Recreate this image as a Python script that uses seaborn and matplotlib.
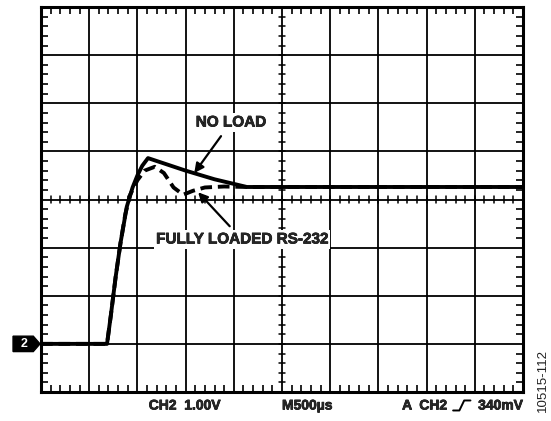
import numpy as np
import pandas as pd
import matplotlib
matplotlib.use("Agg")
import matplotlib.pyplot as plt
import matplotlib.transforms as mtransforms
import matplotlib.patheffects as pe
from matplotlib.patches import Polygon
from matplotlib.lines import Line2D
from matplotlib.ticker import MultipleLocator
import seaborn as sns

# --- data (screen divisions: 10 x 8) ---
no_load_x = [0, 1.37, 1.45, 1.55, 1.65, 1.78, 1.9, 2.0, 2.1, 2.22, 3.0, 3.6, 4.27, 10]
no_load_y = [1, 1, 1.6, 2.4, 3.1, 3.85, 4.25, 4.5, 4.7, 4.86, 4.6, 4.42, 4.26, 4.26]

loaded_x = [0, 1.37, 1.45, 1.55, 1.65, 1.75, 1.85, 2.0, 2.15, 2.36, 2.55, 2.75,
            2.95, 3.15, 3.4, 3.8, 4.3, 10]
loaded_y = [1, 1, 1.6, 2.4, 3.1, 3.7, 4.1, 4.4, 4.6, 4.68, 4.55, 4.25,
            4.1, 4.18, 4.25, 4.27, 4.26, 4.26]

CH2_LEVEL = 1
scale_label = "CH2  1.00V"
time_label = "M500µs"
trig_src = "A  CH2"
trig_level = "340mV"

df = pd.concat([
    pd.DataFrame({"t": no_load_x, "v": no_load_y, "trace": "NO LOAD"}),
    pd.DataFrame({"t": loaded_x, "v": loaded_y, "trace": "FULLY LOADED RS-232"}),
])

sns.set_style("white")
plt.rcParams["font.family"] = ["Liberation Sans", "DejaVu Sans"]

fig = plt.figure(figsize=(5.51, 4.21), dpi=100)
ax = fig.add_axes([41 / 551, 1 - 392 / 421, 482 / 551, 385 / 421])

sns.lineplot(data=df, x="t", y="v", style="trace", color="black", lw=2.8,
             dashes={"NO LOAD": "", "FULLY LOADED RS-232": (3, 1.5)},
             sort=False, legend=False, ax=ax, zorder=3)

ax.set_xlim(0, 10)
ax.set_ylim(0, 8)
ax.xaxis.set_major_locator(MultipleLocator(1))
ax.yaxis.set_major_locator(MultipleLocator(1))
ax.xaxis.set_minor_locator(MultipleLocator(0.2))
ax.yaxis.set_minor_locator(MultipleLocator(0.2))
ax.grid(True, which="major", color="black", lw=1.3)
ax.tick_params(which="major", length=0, labelbottom=False, labelleft=False)
ax.tick_params(which="minor", direction="in", length=5, width=1.2,
               top=True, bottom=True, left=True, right=True, color="black")
ax.set_xlabel("")
ax.set_ylabel("")
for s in ax.spines.values():
    s.set_color("black")
    s.set_linewidth(2.2)

# center-line ticks
for xt in np.arange(0.2, 10, 0.2):
    ax.plot([xt, xt], [3.93, 4.07], color="black", lw=1.1, zorder=2)
for yt in np.arange(0.2, 8, 0.2):
    ax.plot([4.93, 5.07], [yt, yt], color="black", lw=1.1, zorder=2)

thick = [pe.withStroke(linewidth=0.5, foreground="black")]

# annotations
ax.annotate("NO LOAD", xy=(3.18, 4.55), xytext=(3.94, 5.6),
            fontsize=11, fontweight="bold", ha="center", va="center",
            bbox=dict(fc="white", ec="none", pad=1.5), path_effects=thick,
            arrowprops=dict(arrowstyle="-|>", color="black", lw=1.6,
                            mutation_scale=14, shrinkA=4, shrinkB=0),
            zorder=5)
ax.annotate("FULLY LOADED RS-232", xy=(3.26, 4.15), xytext=(4.17, 3.17),
            fontsize=11, fontweight="bold", ha="center", va="center",
            bbox=dict(fc="white", ec="none", pad=1.5), path_effects=thick,
            arrowprops=dict(arrowstyle="-|>", color="black", lw=1.6,
                            mutation_scale=14, shrinkA=4, shrinkB=0),
            zorder=5)

# channel marker
trans = mtransforms.blended_transform_factory(ax.transAxes, ax.transData)
ax.add_patch(Polygon([[-0.058, CH2_LEVEL - 0.16], [-0.016, CH2_LEVEL - 0.16],
                      [-0.002, CH2_LEVEL], [-0.016, CH2_LEVEL + 0.16],
                      [-0.058, CH2_LEVEL + 0.16]],
                     closed=True, fc="black", ec="black", transform=trans,
                     clip_on=False))
ax.text(-0.036, CH2_LEVEL, "2", color="white", fontsize=9, fontweight="bold",
        ha="center", va="center", transform=trans, clip_on=False)

# bottom readout
ty = -0.035
ax.text(0.298, ty, scale_label, transform=ax.transAxes, fontsize=10,
        fontweight="bold", ha="center", va="center", path_effects=thick)
ax.text(0.5, ty, time_label, transform=ax.transAxes, fontsize=10,
        fontweight="bold", ha="left", va="center", path_effects=thick)
ax.text(0.842, ty, trig_src, transform=ax.transAxes, fontsize=10,
        fontweight="bold", ha="right", va="center", path_effects=thick)
ax.text(1.0, ty, trig_level, transform=ax.transAxes, fontsize=10,
        fontweight="bold", ha="right", va="center", path_effects=thick)
# trigger edge symbol
ax.add_line(Line2D([0.855, 0.868, 0.878, 0.891], [-0.048, -0.048, -0.022, -0.022],
                   transform=ax.transAxes, color="black", lw=1.4, clip_on=False))

fig.text(543 / 551, 1 - 380 / 421, "10515-112", rotation=90, fontsize=9.5,
         color="#222222", ha="center", va="center")

fig.savefig("out.png", dpi=100)
